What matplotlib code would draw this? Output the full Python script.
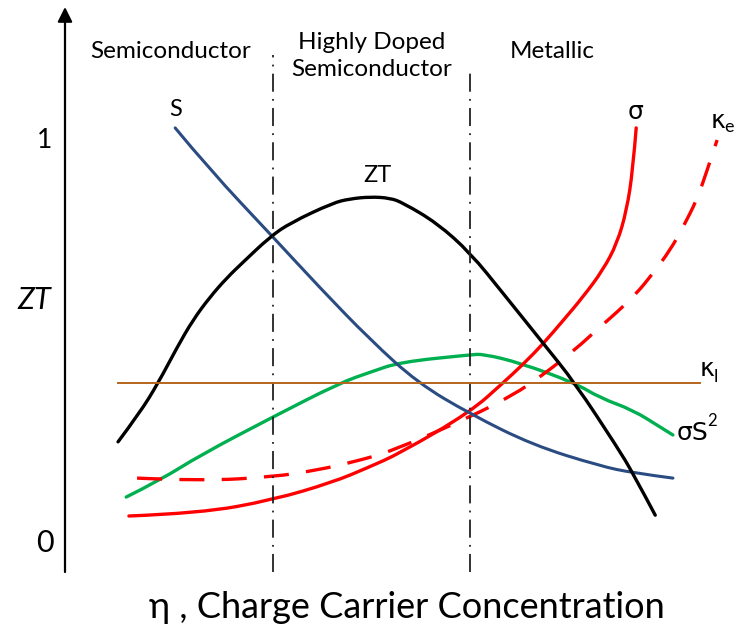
import matplotlib
matplotlib.use("Agg")
import matplotlib.pyplot as plt
from matplotlib.path import Path
from matplotlib.patches import PathPatch

plt.rcParams['font.family'] = ['Lato', 'DejaVu Sans']

# ---- data (x: carrier concentration, arbitrary units; y: ZT-scale units) ----
zt_x = [0.78, 1.10, 1.37, 1.65, 1.88, 2.13, 2.38, 2.62, 3.01, 3.31, 3.94, 4.19, 4.49, 4.78, 4.97, 5.47, 5.96, 6.44, 7.03, 7.50, 8.12, 8.35, 8.68]
zt_y = [0.251, 0.323, 0.397, 0.486, 0.553, 0.610, 0.658, 0.697, 0.759, 0.794, 0.844, 0.854, 0.859, 0.856, 0.844, 0.794, 0.720, 0.620, 0.496, 0.397, 0.238, 0.174, 0.069]

s_x = [1.62, 2.13, 3.06, 3.75, 4.49, 5.19, 5.96, 6.88, 7.87, 8.35, 8.94]
s_y = [1.030, 0.926, 0.759, 0.633, 0.504, 0.397, 0.320, 0.243, 0.191, 0.174, 0.161]

pf_x = [0.90, 1.40, 1.99, 3.06, 4.04, 4.49, 4.93, 5.96, 6.15, 6.69, 7.50, 7.87, 8.35, 8.75, 8.94]
pf_y = [0.114, 0.156, 0.218, 0.313, 0.397, 0.424, 0.449, 0.467, 0.469, 0.447, 0.397, 0.360, 0.330, 0.288, 0.268]

sig_x = [0.94, 1.99, 3.06, 3.94, 4.44, 4.93, 5.96, 6.44, 6.74, 7.03, 7.32, 7.62, 7.91, 8.12, 8.26, 8.35, 8.40]
sig_y = [0.067, 0.074, 0.107, 0.151, 0.186, 0.223, 0.325, 0.397, 0.444, 0.494, 0.551, 0.611, 0.677, 0.744, 0.826, 0.925, 1.030]

ke_x = [1.06, 2.01, 3.06, 3.71, 4.24, 4.81, 5.96, 6.59, 7.03, 7.53, 7.82, 8.12, 8.41, 8.65, 8.90, 9.09, 9.29, 9.41, 9.59]
ke_y = [0.161, 0.154, 0.164, 0.181, 0.201, 0.228, 0.313, 0.367, 0.417, 0.484, 0.529, 0.573, 0.620, 0.670, 0.727, 0.784, 0.851, 0.908, 1.0]

kl_x = [0.78, 9.34]
kl_y = [0.397, 0.397]

regime_bounds = [3.06, 5.96]
regime_labels = ["Semiconductor", "Highly Doped\nSemiconductor", "Metallic"]

# ---- figure ----
fig = plt.figure(figsize=(7.46, 6.29), dpi=100)
ax = fig.add_axes([0, 0, 1, 1])
ax.set_xlim(-65 / 68, (746 - 65) / 68)
ax.set_ylim((543 - 629) / 403, 543 / 403)
ax.axis('off')


def smooth_curve(xs, ys, **kw):
    """Draw a smooth quadratic-Bezier path through the given points."""
    pts = list(zip(xs, ys))
    verts = [pts[0]]
    codes = [Path.MOVETO]
    n = len(pts)
    for i in range(1, n - 1):
        verts.append(pts[i])
        codes.append(Path.CURVE3)
        if i < n - 2:
            verts.append(((pts[i][0] + pts[i + 1][0]) / 2, (pts[i][1] + pts[i + 1][1]) / 2))
        else:
            verts.append(pts[-1])
        codes.append(Path.CURVE3)
    patch = PathPatch(Path(verts, codes), fill=False, **kw)
    ax.add_patch(patch)


y0 = (543 - 572) / 403  # x-axis position

# axes with arrows
ax.annotate('', xy=(0, 1.33), xytext=(0, y0),
            arrowprops=dict(arrowstyle='-|>', lw=1.6, color='black', mutation_scale=22, shrinkA=0, shrinkB=0))
ax.annotate('', xy=(10.03, y0), xytext=(0, y0),
            arrowprops=dict(arrowstyle='-|>', lw=1.6, color='black', mutation_scale=22, shrinkA=0, shrinkB=0))

# regime boundaries
for xb, ytop in zip(regime_bounds, [(543 - 55) / 403, (543 - 67) / 403]):
    ax.plot([xb, xb], [y0, ytop], color='#222222', lw=1.3, linestyle=(0, (10, 4, 1, 4)))

# curves
ax.plot(kl_x, kl_y, color='#B5651D', lw=1.4)
smooth_curve(pf_x, pf_y, edgecolor='#00B050', lw=2.4, capstyle='round')
smooth_curve(sig_x, sig_y, edgecolor='#FF0000', lw=2.4, capstyle='round')
smooth_curve(ke_x, ke_y, edgecolor='#FF0000', lw=2.4, linestyle=(0, (7.5, 5.2)))
smooth_curve(s_x, s_y, edgecolor='#2B4C82', lw=2.2, capstyle='round')
smooth_curve(zt_x, zt_y, edgecolor='black', lw=2.4, capstyle='round')

# regime labels
ax.text(1.55, (543 - 52) / 403, regime_labels[0], fontsize=17.5, ha='center', va='center')
ax.text(4.51, (543 - 56) / 403, regime_labels[1], fontsize=17.5, ha='center', va='center', linespacing=1.3)
ax.text(7.16, (543 - 52) / 403, regime_labels[2], fontsize=17.5, ha='center', va='center')

# curve labels
ax.text(1.62, (543 - 110) / 403, "S", fontsize=17, ha='center', va='center')
ax.text(4.60, (543 - 175) / 403, "ZT", fontsize=17, ha='center', va='center')
ax.text((636 - 65) / 68, (543 - 112) / 403, "σ", fontsize=18, ha='center', va='center', family=['DejaVu Sans'])
ax.text((718 - 65) / 68, (543 - 121) / 403, "κ", fontsize=18, ha='center', va='center', family=['DejaVu Sans'])
ax.text((729 - 65) / 68, (543 - 127) / 403, "e", fontsize=13, ha='center', va='center')
ax.text((707 - 65) / 68, (543 - 369) / 403, "κ", fontsize=18, ha='center', va='center', family=['DejaVu Sans'])
ax.text((716 - 65) / 68, (543 - 377) / 403, "l", fontsize=13, ha='center', va='center')
ax.text((677 - 65) / 68, (543 - 433) / 403, "σS", fontsize=18, ha='left', va='center', family=['DejaVu Sans'])
ax.text((712 - 65) / 68, (543 - 421) / 403, "2", fontsize=12, ha='center', va='center')

# y tick labels and y label
ax.text(-0.3, 1.0, "1", fontsize=19, ha='center', va='center')
ax.text(-0.3, 0.0, "0", fontsize=22, ha='center', va='center')
ax.text(-0.45, (543 - 300) / 403, "ZT", fontsize=22, ha='center', va='center', style='italic')

# x label
ax.text((407 - 65) / 68, (543 - 608) / 403, "η , Charge Carrier Concentration", fontsize=26, ha='center', va='center')

fig.savefig("out.png", dpi=100)
